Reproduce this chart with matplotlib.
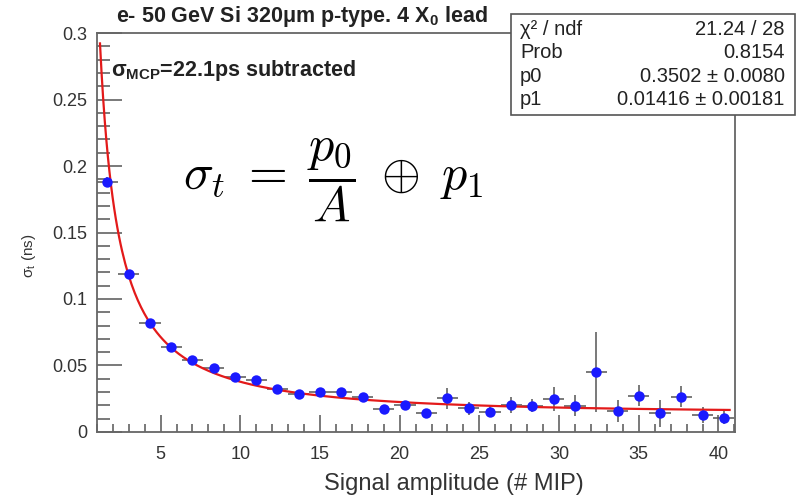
import numpy as np
import matplotlib
matplotlib.use("Agg")
from matplotlib import pyplot as plt
from matplotlib.patches import Rectangle
from matplotlib.ticker import MultipleLocator

plt.rcParams["font.family"] = ["Liberation Sans", "DejaVu Sans"]
plt.rcParams["mathtext.fontset"] = "custom"
plt.rcParams["mathtext.rm"] = "Liberation Sans"
plt.rcParams["mathtext.it"] = "Liberation Sans"
plt.rcParams["mathtext.bf"] = "Liberation Sans:bold"

# bin centres (# MIP), bin half width
amplitude = [1.67, 3.00, 4.33, 5.67, 7.00, 8.33, 9.67, 11.00, 12.33, 13.67,
             15.00, 16.33, 17.67, 19.00, 20.33, 21.67, 23.00, 24.33, 25.67, 27.00,
             28.33, 29.67, 31.00, 32.33, 33.67, 35.00, 36.33, 37.67, 39.00, 40.33]
half_bin = 0.667

sigma_t = [0.188, 0.119, 0.082, 0.064, 0.054, 0.048, 0.041, 0.039, 0.0325, 0.0287,
           0.030, 0.030, 0.026, 0.0172, 0.0205, 0.0141, 0.0254, 0.0179, 0.0152, 0.0205,
           0.0197, 0.025, 0.0199, 0.045, 0.0157, 0.0272, 0.0141, 0.0265, 0.0129, 0.0107]
sigma_err = [0.004, 0.003, 0.002, 0.002, 0.002, 0.002, 0.002, 0.002, 0.002, 0.002,
             0.002, 0.003, 0.003, 0.003, 0.003, 0.003, 0.008, 0.005, 0.004, 0.006,
             0.005, 0.009, 0.008, 0.030, 0.008, 0.008, 0.010, 0.008, 0.006, 0.005]

# fit results
p0 = 0.3502
p1 = 0.01416
stats_rows = [
    ("\u03c7\u00b2 / ndf", "21.24 / 28"),
    ("Prob", "0.8154"),
    ("p0", "0.3502 \u00b1 0.0080"),
    ("p1", "0.01416 \u00b1 0.00181"),
]

fig = plt.figure(figsize=(8, 4.95), dpi=100)
ax = fig.add_axes([0.121, 0.1273, 0.798, 0.806])

ax.errorbar(amplitude, sigma_t, yerr=sigma_err, xerr=half_bin,
            fmt="none", ecolor="#555555", elinewidth=1.1, zorder=2)
ax.plot(amplitude, sigma_t, "o", color="#1a1aff", markersize=7.5,
        markeredgewidth=0, zorder=4)

a = np.linspace(1.2, 40.7, 400)
ax.plot(a, np.sqrt((p0 / a) ** 2 + p1 ** 2), color="#e31a1a", lw=1.6, zorder=3)

ax.set_xlim(1, 41.05)
ax.set_ylim(0, 0.3)
ax.xaxis.set_major_locator(MultipleLocator(5))
ax.xaxis.set_minor_locator(MultipleLocator(1))
ax.yaxis.set_minor_locator(MultipleLocator(0.01))
ax.set_yticks([0, 0.05, 0.1, 0.15, 0.2, 0.25, 0.3])
ax.set_yticklabels(["0", "0.05", "0.1", "0.15", "0.2", "0.25", "0.3"])

ax.tick_params(which="major", direction="in", length=12, width=1.1,
               color="#555555", labelsize=13, labelcolor="#333333")
ax.tick_params(axis="x", which="major", pad=10)
ax.tick_params(axis="y", which="major", length=18, pad=7)
ax.tick_params(which="minor", direction="in", length=6, width=1.1, color="#555555")
ax.tick_params(axis="y", which="minor", length=9)
for s in ax.spines.values():
    s.set_color("#666666")
    s.set_linewidth(1.3)

fig.text(0.036, 0.483, "\u03c3$_t$ (ns)", rotation=90, ha="center", va="center",
         fontsize=11, color="#333333")
fig.text(0.5675, 0.022, "Signal amplitude (# MIP)", ha="center", va="center",
         fontsize=17, color="#333333")

fig.text(0.3775, 0.966, "e- 50 GeV Si 320\u03bcm p-type. 4 X$_\\mathbf{0}$ lead",
         ha="center", va="center", fontsize=15.5, fontweight="bold", color="#222222")
ax.text(0.022, 0.905, "\u03c3$_\\mathbf{MCP}$=22.1ps subtracted", transform=ax.transAxes,
        ha="left", va="center", fontsize=15.5, fontweight="bold", color="#222222")

ax.text(0.135, 0.63, "$\\sigma_t \\;=\\; \\dfrac{p_0}{A} \\;\\oplus\\; p_1$",
        transform=ax.transAxes, ha="left", va="center", fontsize=36, color="black",
        math_fontfamily="cm")

# stats box
fig.patches.append(Rectangle((0.639, 0.768), 0.355, 0.204, transform=fig.transFigure,
                             facecolor="white", edgecolor="#555555", lw=1.2, zorder=5))
row_y = [0.941, 0.893, 0.846, 0.798]
for (name, val), y in zip(stats_rows, row_y):
    fig.text(0.65, y, name, ha="left", va="center", fontsize=14.5, color="#222222", zorder=6)
    fig.text(0.981, y, val, ha="right", va="center", fontsize=14.5, color="#222222", zorder=6)

fig.savefig("out.png", dpi=100)
